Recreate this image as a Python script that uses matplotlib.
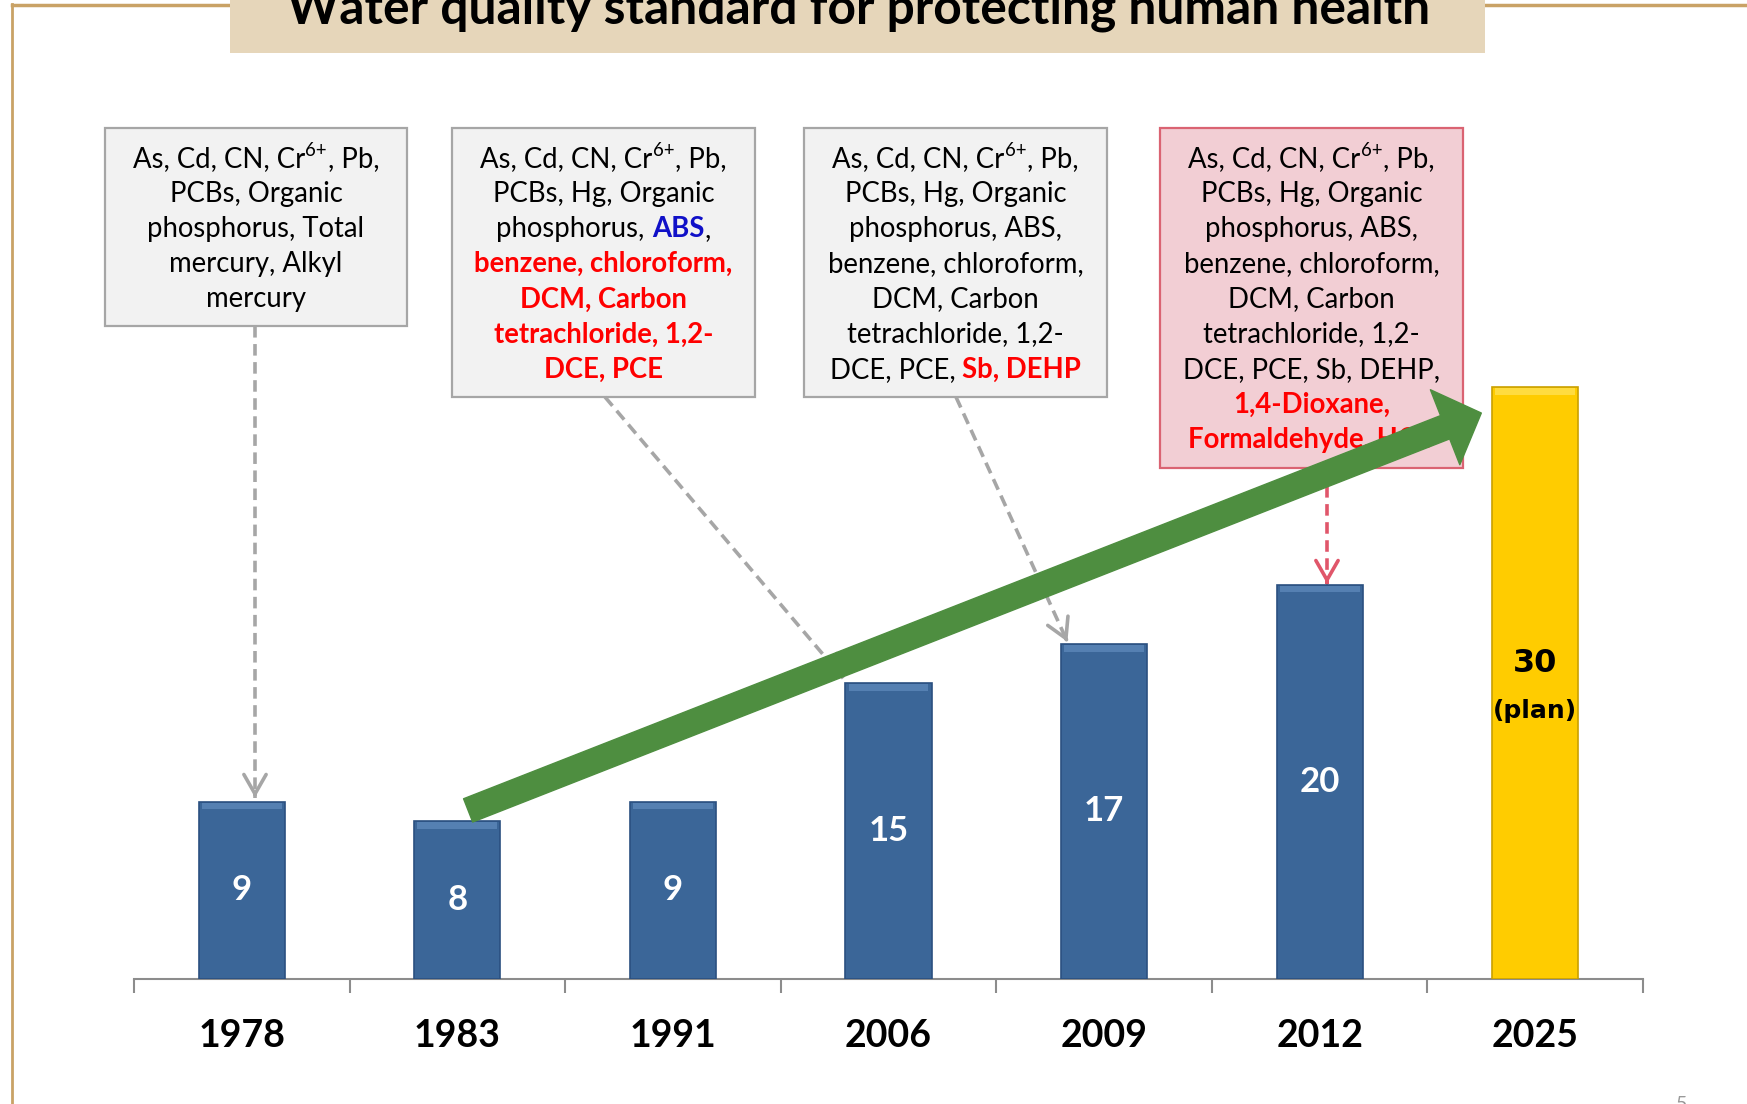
import matplotlib
matplotlib.use('Agg')
import matplotlib.pyplot as plt
import matplotlib.transforms as mtransforms
from matplotlib.patches import Rectangle, FancyArrowPatch

plt.rcParams['font.family'] = ['Lato', 'DejaVu Sans']

W, H = 1747, 1104

# --- data ---
years = ['1978', '1983', '1991', '2006', '2009', '2012', '2025']
counts = [9, 8, 9, 15, 17, 20, 30]
value_labels = ['9', '8', '9', '15', '17', '20', '30']
plan_note = '(plan)'
title = 'Water quality standard for protecting human health'

BLACK, RED, BLUE = 'black', '#FF0000', '#1010C8'
# segments: (text, colour, bold, superscript)
first_line = [('As, Cd, CN, Cr', BLACK, False, False), ('6+', BLACK, False, True),
              (', Pb,', BLACK, False, False)]

box_1978 = [
    first_line,
    [('PCBs, Organic', BLACK, False, False)],
    [('phosphorus, Total', BLACK, False, False)],
    [('mercury, Alkyl', BLACK, False, False)],
    [('mercury', BLACK, False, False)],
]
box_2006 = [
    first_line,
    [('PCBs, Hg, Organic', BLACK, False, False)],
    [('phosphorus, ', BLACK, False, False), ('ABS', BLUE, True, False),
     (',', BLACK, False, False)],
    [('benzene, chloroform,', RED, True, False)],
    [('DCM, Carbon', RED, True, False)],
    [('tetrachloride, 1,2-', RED, True, False)],
    [('DCE, PCE', RED, True, False)],
]
box_2009 = [
    first_line,
    [('PCBs, Hg, Organic', BLACK, False, False)],
    [('phosphorus, ABS,', BLACK, False, False)],
    [('benzene, chloroform,', BLACK, False, False)],
    [('DCM, Carbon', BLACK, False, False)],
    [('tetrachloride, 1,2-', BLACK, False, False)],
    [('DCE, PCE, ', BLACK, False, False), ('Sb, DEHP', RED, True, False)],
]
box_2012 = [
    first_line,
    [('PCBs, Hg, Organic', BLACK, False, False)],
    [('phosphorus, ABS,', BLACK, False, False)],
    [('benzene, chloroform,', BLACK, False, False)],
    [('DCM, Carbon', BLACK, False, False)],
    [('tetrachloride, 1,2-', BLACK, False, False)],
    [('DCE, PCE, Sb, DEHP,', BLACK, False, False)],
    [('1,4-Dioxane,', RED, True, False)],
    [('Formaldehyde, HCB', RED, True, False)],
]

# --- figure / axes ---
fig = plt.figure(figsize=(W / 100, H / 100), dpi=100)
base_px, unit_px = 979, 19.72
ax = fig.add_axes([134 / W, (H - base_px) / H, 1509 / W, base_px / H])
ax.set_xlim(-0.5, len(years) - 0.5)
ax.set_ylim(0, base_px / unit_px)
ax.set_facecolor('none')
for s in ['top', 'left', 'right']:
    ax.spines[s].set_visible(False)
ax.spines['bottom'].set_color('#8C8C8C')
ax.spines['bottom'].set_linewidth(1.5)
ax.set_yticks([])
x = list(range(len(years)))
ax.set_xticks(x, years, fontsize=27, fontweight='bold')
ax.tick_params(axis='x', length=0, pad=29)
ax.set_xticks([i - 0.5 for i in range(len(years) + 1)], minor=True)
ax.tick_params(axis='x', which='minor', direction='out', length=10,
               width=1.5, color='#8C8C8C')

# pixel transform, origin at top-left
pix = mtransforms.Affine2D().scale(1 / W, -1 / H).translate(0, 1) + fig.transFigure


def pix2data(px, py):
    return ax.transData.inverted().transform(pix.transform((px, py)))


renderer = fig.canvas.get_renderer()

# frame lines and title block
gold = '#C9A266'
ax.plot([12, 230], [5, 5], transform=pix, color=gold, lw=2.5, clip_on=False, zorder=1)
ax.plot([1485, W], [5, 5], transform=pix, color=gold, lw=2.5, clip_on=False, zorder=1)
ax.plot([12, 12], [4, H], transform=pix, color=gold, lw=2, clip_on=False, zorder=1)
ax.add_patch(Rectangle((230, -2), 1255, 55, transform=pix, facecolor='#E6D6BA',
                       edgecolor='none', clip_on=False, zorder=1))
tt = ax.text(859, 24, title, transform=pix, ha='center', va='baseline',
             fontsize=34, fontweight='bold', color='black', clip_on=False, zorder=2)
tw = tt.get_window_extent(renderer).width
tt.set_fontsize(34 * 1144 / tw)

# page number fragment
ax.text(1676, 1096, '5', transform=pix, fontsize=14, color='#999999',
        ha='left', va='top', clip_on=False)

# --- boxes ---
box_size = 19.8
sp = ax.text(0, 0, 'a a', fontsize=box_size)
sp2 = ax.text(0, 0, 'aa', fontsize=box_size)
space_w = sp.get_window_extent(renderer).width - sp2.get_window_extent(renderer).width
sp.remove()
sp2.remove()


def draw_line(segments, cx, yb):
    pieces, total = [], 0
    for txt, color, bold, sup in segments:
        core = txt.rstrip(' ')
        t = ax.text(0, yb - (11 if sup else 0), core, transform=pix, color=color,
                    fontsize=box_size * (0.68 if sup else 1.0),
                    fontweight='bold' if bold else 'normal', ha='left',
                    va='baseline', zorder=3, clip_on=False)
        w = t.get_window_extent(renderer).width + (len(txt) - len(core)) * space_w
        if sup:
            w += 1
        pieces.append((t, w))
        total += w
    xx = cx - total / 2
    for t, w in pieces:
        t.set_x(xx)
        xx += w


boxes = [box_1978, box_2006, box_2009, box_2012]
box_rects = [(105, 128, 407, 326), (452, 128, 755, 397),
             (804, 128, 1107, 397), (1160, 128, 1463, 468)]
box_styles = [('#F2F2F2', '#A6A6A6')] * 3 + [('#F2CED4', '#DA6372')]
for lines, (x0, y0, x1, y1), (fc, ec) in zip(boxes, box_rects, box_styles):
    ax.add_patch(Rectangle((x0, y0), x1 - x0, y1 - y0, transform=pix, facecolor=fc,
                           edgecolor=ec, lw=1.6, clip_on=False, zorder=2))
    for k, segs in enumerate(lines):
        draw_line(segs, (x0 + x1) / 2, 167 + 35.1 * k)

# --- dashed pointers from boxes to bars ---
w_bar = 0.4
pointer_targets = [0, 3, 4, 5]
pointer_starts = [(255, 326), (605, 397), (956, 397), (1327, 468)]
pointer_colors = ['#A6A6A6', '#A6A6A6', '#A6A6A6', '#E0566A']
for idx, (sx, sy), col in zip(pointer_targets, pointer_starts, pointer_colors):
    x0, y0 = pix2data(sx, sy)
    if idx == 0:
        x1, y1 = x0, counts[idx] + 0.2
    elif idx == 3:
        x1, y1 = idx - w_bar / 2 - 0.01, counts[idx] + 0.25
    elif idx == 4:
        x1, y1 = idx - w_bar / 2 + 0.03, counts[idx] + 0.1
    else:
        x1, y1 = x0, counts[idx] + 0.05
    ax.plot([x0, x1], [y0, y1], color=col, lw=2.6, ls=(0, (3.2, 1.8)), zorder=4,
            clip_on=False)
    ax.annotate('', xy=(x1, y1), xytext=(x1 - (x1 - x0) * 0.01, y1 - (y1 - y0) * 0.01),
                arrowprops=dict(arrowstyle='->,head_length=1.4,head_width=0.8',
                                mutation_scale=10, color=col, lw=2.6,
                                shrinkA=0, shrinkB=0), zorder=4)

# --- bars ---
colors = ['#3B6698'] * 6 + ['#FFCC00']
edges = ['#2B5080'] * 6 + ['#C9A000']
tops = ['#5580B2'] * 6 + ['#FFDC40']
ax.bar(x, counts, width=w_bar, color=colors, edgecolor=edges, lw=1.2, zorder=5)
ax.bar(x, [0.35] * len(x), bottom=[c - 0.4 for c in counts], width=w_bar - 0.03,
       color=tops, lw=0, zorder=5)

for i, (c, lab) in enumerate(zip(counts, value_labels)):
    if i < 6:
        ax.text(i, c / 2, lab, ha='center', va='center', color='white',
                fontsize=25, fontweight='bold', zorder=6)
    else:
        ax.text(i, c / 2 + 1.0, lab, ha='center', va='center', color='black',
                fontsize=23, fontweight='bold', family='DejaVu Sans', zorder=6)
        ax.text(i, c / 2 - 1.4, plan_note, ha='center', va='center', color='black',
                fontsize=18, fontweight='bold', family='DejaVu Sans', zorder=6)

# --- green trend arrow ---
trend = FancyArrowPatch((1.05, counts[1] + 0.55), (5.75, counts[6] - 1.3),
                        arrowstyle='simple,head_length=28,head_width=58,tail_width=18',
                        mutation_scale=1, color='#4E8E40', shrinkA=0, shrinkB=0,
                        zorder=7)
ax.add_patch(trend)

fig.savefig('out.png', dpi=100)
